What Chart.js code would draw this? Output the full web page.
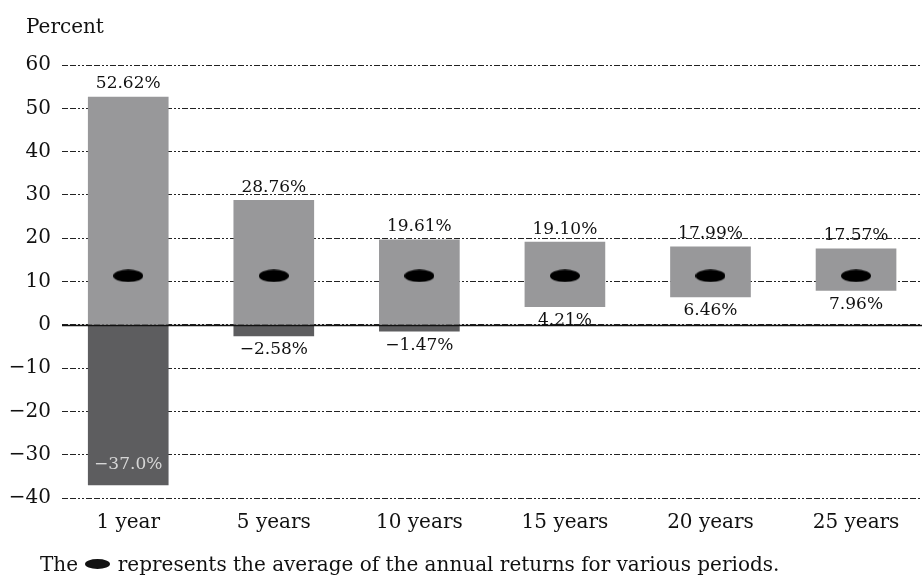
<!DOCTYPE html>
<html>
<head>
<meta charset="utf-8">
<script src="https://cdn.jsdelivr.net/npm/chart.js@4"></script>
<style>
  html,body{margin:0;padding:0;background:#fff;overflow:hidden;}
  #wrap{position:relative;width:922px;height:580px;overflow:hidden;}
  #c{position:absolute;left:0;top:0;}
  .ttl{position:absolute;left:26px;top:14px;font:20px "DejaVu Serif",serif;color:#111;}
  .cap{position:absolute;left:40px;top:552px;font:20px "DejaVu Serif",serif;color:#111;white-space:nowrap;}
  .cap .dot{display:inline-block;width:25px;height:10px;border-radius:50%;background:#111;vertical-align:2px;margin:0 1px;}
</style>
</head>
<body>
<div id="wrap">
  <canvas id="c" width="928" height="580"></canvas>
  <div class="ttl">Percent</div>
  <div class="cap">The <span class="dot"></span> represents the average of the annual returns for various periods.</div>
</div>
<script>
const periods = ['1 year','5 years','10 years','15 years','20 years','25 years'];
const highs = [52.62, 28.76, 19.61, 19.10, 17.99, 17.57];
const lows = [-37.0, -2.58, -1.47, 4.21, 6.46, 7.96];
const avgs = [11.3, 11.3, 11.3, 11.3, 11.3, 11.3];
const highLabels = ['52.62%','28.76%','19.61%','19.10%','17.99%','17.57%'];
const lowLabels = ['\u221237.0%','\u22122.58%','\u22121.47%','4.21%','6.46%','7.96%'];
const yTicks = [60,50,40,30,20,10,0,-10,-20,-30,-40];

const FONT = '"DejaVu Serif", serif';

// black oval used for the averages
const oval = document.createElement('canvas');
oval.width = 30; oval.height = 13;
(function(){
  const g = oval.getContext('2d');
  g.fillStyle = '#000';
  g.beginPath();
  g.ellipse(15, 6.5, 15, 6.2, 0, 0, Math.PI*2);
  g.fill();
})();

// labels at the ends of the bars + solid zero line
const barText = {
  id:'barText',
  afterDatasetsDraw(chart){
    const ctx = chart.ctx, y = chart.scales.y, area = chart.chartArea;
    ctx.save();
    ctx.strokeStyle = '#111';
    ctx.lineWidth = 1.6;
    ctx.beginPath();
    ctx.moveTo(area.left, Math.round(y.getPixelForValue(0)) + 0.5);
    ctx.lineTo(chart.width, Math.round(y.getPixelForValue(0)) + 0.5);
    ctx.stroke();

    ctx.font = '17px ' + FONT;
    ctx.textAlign = 'center';
    ctx.textBaseline = 'middle';
    const x = chart.scales.x;
    periods.forEach((p,i)=>{
      const px = x.getPixelForValue(i);
      ctx.fillStyle = '#111';
      ctx.fillText(highLabels[i], px, y.getPixelForValue(highs[i]) - 13);
      if (lows[i] < -20) {
        ctx.fillStyle = '#d6d6d6';
        ctx.fillText(lowLabels[i], px, y.getPixelForValue(lows[i]) - 20);
      } else {
        ctx.fillText(lowLabels[i], px, y.getPixelForValue(lows[i]) + 14);
      }
    });
    ctx.restore();
  }
};

new Chart(document.getElementById('c'),{
  type:'bar',
  data:{
    datasets:[
      {
        label:'above zero',
        data: periods.map((p,i)=>({x:i, y:[Math.max(lows[i],0), highs[i]]})),
        backgroundColor:'#98989a',
        barThickness:80,
        grouped:false,
        order:2
      },
      {
        label:'below zero',
        data: periods.map((p,i)=>({x:i, y: lows[i] < 0 ? [lows[i], 0] : null})),
        backgroundColor:'#5d5d5f',
        barThickness:80,
        grouped:false,
        order:2
      },
      {
        type:'scatter',
        label:'average',
        data: periods.map((p,i)=>({x:i, y:avgs[i]})),
        pointStyle: oval,
        order:1
      }
    ]
  },
  options:{
    responsive:false,
    animation:false,
    layout:{padding:{top:65,right:0,bottom:0,left:0}},
    plugins:{legend:{display:false}, tooltip:{enabled:false}},
    scales:{
      x:{
        type:'linear',
        offset:false,
        min:-0.455, max:5.46,
        grid:{display:false, drawTicks:false},
        border:{display:false},
        afterBuildTicks(s){ s.ticks = periods.map((p,i)=>({value:i})); },
        afterFit(s){ s.height = 82; },
        ticks:{
          padding:13,
          color:'#111',
          font:{family:FONT, size:20},
          callback:(v)=>periods[v]
        }
      },
      y:{
        min:-40, max:60,
        afterBuildTicks(s){ s.ticks = yTicks.map(v=>({value:v})); },
        afterFit(s){ s.width = 62; },
        grid:{color:'#222', lineWidth:1, drawTicks:false},
        border:{display:false, dash:[6,2,6,2,2,2,2,2]},
        ticks:{
          padding:11,
          color:'#111',
          font:{family:FONT, size:20},
          callback:(v)=>String(v).replace('-','\u2212')
        }
      }
    }
  },
  plugins:[barText]
});
</script>
</body>
</html>
